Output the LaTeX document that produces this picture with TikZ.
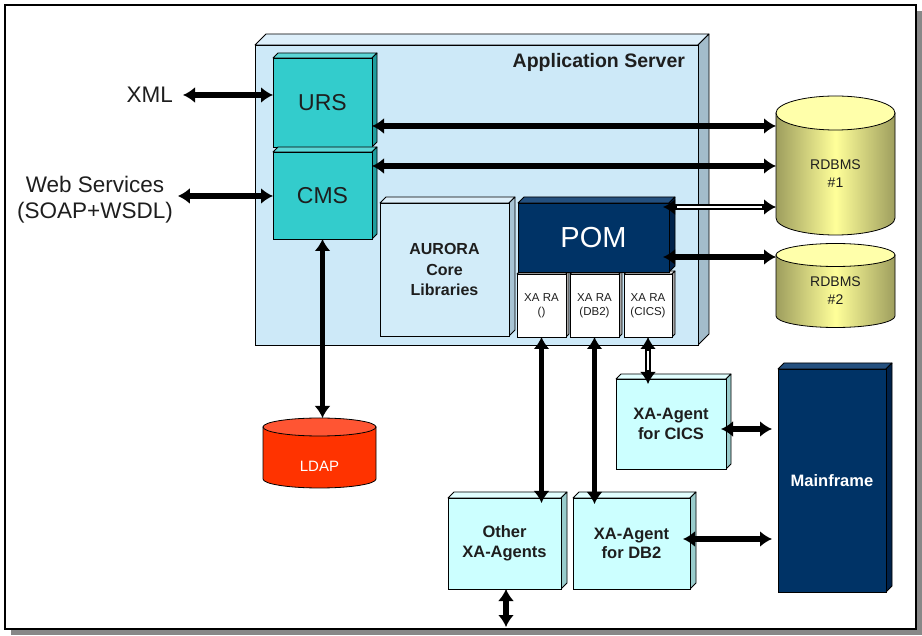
\documentclass[tikz,border=0pt]{standalone}
\usepackage{fontspec}
\setmainfont{Liberation Sans}
\usetikzlibrary{arrows.meta,calc}

\definecolor{srvfront}{HTML}{CDE9F8}
\definecolor{srvside}{HTML}{A3BCCB}
\definecolor{srvtop}{HTML}{DDEFFA}
\definecolor{libfront}{HTML}{D2ECF9}
\definecolor{libside}{HTML}{A8C4D4}
\definecolor{tealfront}{HTML}{33CCCC}
\definecolor{tealside}{HTML}{1F9E9E}
\definecolor{tealtop}{HTML}{5CD6D6}
\definecolor{navyfront}{HTML}{003366}
\definecolor{navyside}{HTML}{00224A}
\definecolor{navytop}{HTML}{24507F}
\definecolor{agentfront}{HTML}{CCFFFF}
\definecolor{agentside}{HTML}{99CCCC}
\definecolor{agenttop}{HTML}{E2FFFF}
\definecolor{rafront}{HTML}{FFFFFF}
\definecolor{raside}{HTML}{A8A8A8}
\definecolor{ratop}{HTML}{E6E6E6}
\definecolor{dbdark}{HTML}{9E9E5E}
\definecolor{dblight}{HTML}{FFFF99}
\definecolor{dbtop}{HTML}{FFFFAA}
\definecolor{ldapred}{HTML}{FF3300}
\definecolor{ldaptop}{HTML}{FF5533}
\definecolor{textdark}{HTML}{1E1E1E}
\definecolor{shadowgray}{HTML}{888888}

% a box with a visible top and right face; the front face is a named node
% #1 name, #2 x1, #3 y1, #4 x2, #5 y2, #6 depth, #7 side colour, #8 top colour, #9 front style
\newcommand\cubebox[9]{%
  \filldraw[fill=#8, line width=0.8pt, line join=round]
    (#2,#3) -- ({#2+#6},{#3-#6}) -- ({#4+#6},{#3-#6}) -- (#4,#3) -- cycle;
  \filldraw[fill=#7, line width=0.8pt, line join=round]
    (#4,#3) -- ({#4+#6},{#3-#6}) -- ({#4+#6},{#5-#6}) -- (#4,#5) -- cycle;
  \node[#9, anchor=north west, minimum width={#4-#2}, minimum height={#5-#3}] (#1) at (#2,#3)}

% upright cylinder: #1 x-left, #2 x-right, #3 top centre y, #4 bottom centre y, #5 y radius,
% #6 body style, #7 top colour
\newcommand\cylinderbody[7]{%
  \draw[#6, line width=0.8pt]
    (#1,#3) -- (#1,#4) arc[start angle=180, end angle=360, x radius={(#2-#1)/2*1pt}, y radius=#5pt]
    -- (#2,#3) -- cycle;
  \draw[fill=#7, line width=0.8pt] ({(#1+#2)/2},#3) ellipse[x radius={(#2-#1)/2*1pt}, y radius=#5pt];}

\tikzset{
  front/.style={draw, line width=0.8pt, inner sep=0pt, outer sep=0pt, align=center},
  biarrow/.style={line width=5.5pt, {Latex[length=12pt,width=16pt]}-{Latex[length=12pt,width=16pt]}},
  hollowcore/.style={white, line width=1.6pt},
  lbl/.style={inner sep=0pt, outer sep=0pt, align=center, text=textdark},
}

\begin{document}
\begin{tikzpicture}[x=1pt, y=-1pt]
  \useasboundingbox (0,0) rectangle (922,636);
  \fill[white] (0,0) rectangle (922,636);

  % page frame with its drop shadow
  \fill[shadowgray] (11,629) rectangle (922,635);
  \fill[shadowgray] (916,11) rectangle (922,635);
  \draw[line width=1.2pt, fill=white] (5,5) rectangle (916,629);

  % application server and its components
  \cubebox{srv}{255}{45}{698}{345}{11}{srvside}{srvtop}{front, fill=srvfront}{};
  \node[lbl, anchor=east, font=\fontsize{19.5}{22}\selectfont\bfseries] (srvlabel) at (685,62) {Application Server};

  \cubebox{urs}{273}{58}{372}{147}{5}{tealside}{tealtop}{front, fill=tealfront, text=textdark, font=\fontsize{23}{24}\selectfont}{URS};
  \cubebox{cms}{273}{152}{372}{239}{5}{tealside}{tealtop}{front, fill=tealfront, text=textdark, font=\fontsize{23}{24}\selectfont}{CMS};

  \cubebox{aurora}{380}{203}{509}{336}{6}{libside}{srvtop}{front, fill=libfront, text=textdark, font=\fontsize{16}{20.5}\selectfont\bfseries}{AURORA\\Core\\Libraries};

  \cubebox{xa1}{517}{274}{566}{337}{3}{raside}{ratop}{front, fill=rafront, text=textdark, font=\fontsize{11.5}{14.5}\selectfont}{XA RA\\()};
  \cubebox{xa2}{570}{274}{619}{337}{3}{raside}{ratop}{front, fill=rafront, text=textdark, font=\fontsize{11.5}{14.5}\selectfont}{XA RA\\(DB2)};
  \cubebox{xa3}{624}{274}{672}{337}{3}{raside}{ratop}{front, fill=rafront, text=textdark, font=\fontsize{11.5}{14.5}\selectfont}{XA RA\\(CICS)};

  \cubebox{pom}{518}{203}{669}{272}{6}{navyside}{navytop}{front, fill=navyfront, text=white, font=\fontsize{29}{30}\selectfont}{POM};

  % agents and mainframe
  \cubebox{agcics}{616}{379}{726}{469}{5}{agentside}{agenttop}{front, fill=agentfront, text=textdark, font=\fontsize{16.5}{19.5}\selectfont\bfseries}{XA-Agent\\for CICS};
  \cubebox{agdb2}{573}{498}{690}{589}{6}{agentside}{agenttop}{front, fill=agentfront, text=textdark, font=\fontsize{16.5}{19.5}\selectfont\bfseries}{XA-Agent\\for DB2};
  \cubebox{agother}{448}{498}{561}{589}{6}{agentside}{agenttop}{front, fill=agentfront, text=textdark, font=\fontsize{16.5}{19.5}\selectfont\bfseries}{Other\\XA-Agents};
  \cubebox{mainframe}{778}{369}{886}{592}{6}{navyside}{navytop}{front, fill=navyfront, text=white, font=\fontsize{16.5}{19}\selectfont\bfseries}{Mainframe};

  % databases
  \cylinderbody{776}{895}{113}{218}{17}{left color=dbdark, right color=dbdark, middle color=dblight}{dbtop}
  \node[lbl, minimum width=119pt, font=\fontsize{14}{18}\selectfont] (db1) at (835.5,174) {RDBMS\\\#1};
  \cylinderbody{776}{895}{255}{316}{11.5}{left color=dbdark, right color=dbdark, middle color=dblight}{dbtop}
  \node[lbl, minimum width=119pt, font=\fontsize{14}{18}\selectfont] (db2) at (835.5,291) {RDBMS\\\#2};
  \cylinderbody{263}{376}{427}{479}{9}{fill=ldapred}{ldaptop}
  \node[lbl, text=white, font=\fontsize{15}{16}\selectfont] (ldap) at (319.5,466) {LDAP};
  \coordinate (ldaptop) at (319.5,418);

  % external interfaces
  \node[lbl, anchor=east, font=\fontsize{22.5}{26}\selectfont] (xml) at (173,95) {XML};
  \node[lbl, font=\fontsize{22.5}{26}\selectfont] (ws) at (95,200) {Web Services\\(SOAP+WSDL)};
  \coordinate (otherout) at (506,627);

  % connectors
  \draw[biarrow, shorten <=10pt] (xml.east) -- (urs.west |- xml.east);
  \draw[biarrow, shorten <=5pt] (ws.east |- 0,196) -- (cms.west |- 0,196);
  \draw[biarrow] (urs.east |- 0,126) -- (db1.west |- 0,126);
  \draw[biarrow] (cms.east |- 0,166) -- (db1.west |- 0,166);
  \draw[biarrow, shorten <=-6pt] (pom.east |- 0,207) -- (db1.west |- 0,207);
  \draw[hollowcore, shorten <=8pt, shorten >=14pt] (pom.east |- 0,207) -- (db1.west |- 0,207);
  \draw[biarrow, shorten <=-6pt] (pom.east |- 0,257) -- (db2.west |- 0,257);
  \draw[biarrow] (cms.south) -- (cms.south |- ldaptop);
  \draw[biarrow, shorten >=-5pt] (xa1.south) -- (xa1.south |- agother.north);
  \draw[biarrow, shorten >=-6pt] (xa2.south) -- (xa2.south |- agdb2.north);
  \draw[biarrow, shorten >=-5pt] (xa3.south) -- (xa3.south |- agcics.north);
  \draw[hollowcore, shorten <=14pt, shorten >=9pt] (xa3.south) -- (xa3.south |- agcics.north);
  \draw[biarrow, shorten <=-5pt, shorten >=6pt] (agcics.east |- 0,429) -- (mainframe.west |- 0,429);
  \draw[biarrow, shorten <=-7pt, shorten >=6pt] (agdb2.east |- 0,539) -- (mainframe.west |- 0,539);
  \draw[biarrow] (agother.south -| otherout) -- (otherout);
\end{tikzpicture}
\end{document}
